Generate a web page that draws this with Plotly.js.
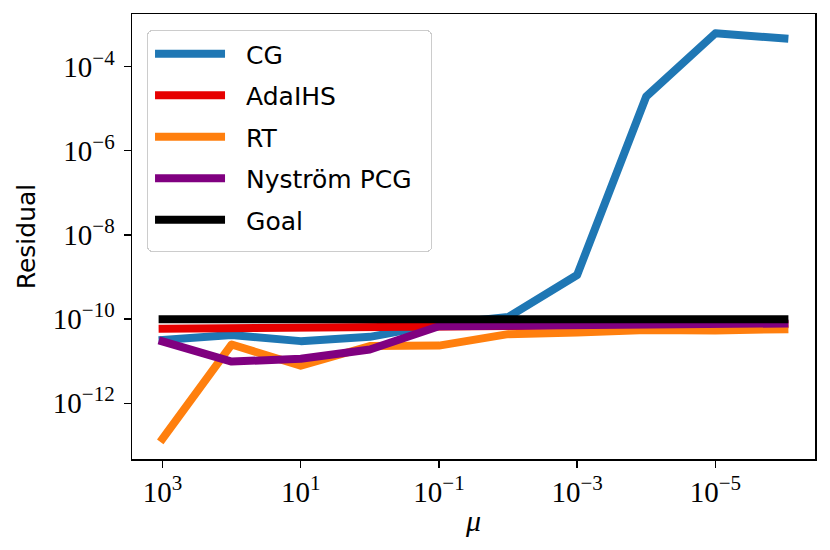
<!DOCTYPE html>
<html>
<head>
<meta charset="utf-8">
<script src="https://cdn.plot.ly/plotly-3.0.1.min.js"></script>
<style>
  html, body { margin: 0; padding: 0; background: #fff; }
  #chart { width: 830px; height: 550px; }
</style>
</head>
<body>
<div id="chart"></div>
<script>
// ---- data ----
const mu = [1e3, 1e2, 1e1, 1e0, 1e-1, 1e-2, 1e-3, 1e-4, 1e-5, 1e-6];
const cgResidual       = [3.2e-11, 4.2e-11, 3.0e-11, 3.8e-11, 7.6e-11, 1.12e-10, 1.12e-9, 1.95e-5, 6.2e-4, 4.7e-4];
const adaIHSResidual   = [5.9e-11, 6.2e-11, 6.3e-11, 6.5e-11, 6.6e-11, 6.9e-11, 7.1e-11, 7.2e-11, 7.4e-11, 7.6e-11];
const rtResidual       = [1.45e-13, 2.5e-11, 7.8e-12, 2.3e-11, 2.35e-11, 4.4e-11, 4.8e-11, 5.5e-11, 5.4e-11, 5.75e-11];
const nystromResidual  = [2.95e-11, 9.8e-12, 1.15e-11, 1.9e-11, 6.8e-11, 6.9e-11, 7.1e-11, 7.1e-11, 7.6e-11, 7.9e-11];
const goalResidual     = [1e-10, 1e-10, 1e-10, 1e-10, 1e-10, 1e-10, 1e-10, 1e-10, 1e-10, 1e-10];

const seriesNames  = ['CG', 'AdaIHS', 'RT', 'Nyström PCG', 'Goal'];
const seriesColors = ['#1f77b4', '#e60000', '#ff7f0e', '#800080', '#000000'];

const xTickVals = [1e3, 1e1, 1e-1, 1e-3, 1e-5];
const xTickExp  = ['3', '1', '−1', '−3', '−5'];
const yTickVals = [1e-12, 1e-10, 1e-8, 1e-6, 1e-4];
const yTickExp  = ['−12', '−10', '−8', '−6', '−4'];

const supLabel = e => '10<sup><span style="font-size:21px">' + e + '</span></sup>';
const xTickText = xTickExp.map(supLabel);
const yTickText = yTickExp.map(supLabel);

const allSeries = [cgResidual, adaIHSResidual, rtResidual, nystromResidual, goalResidual];

const traces = allSeries.map((ys, i) => ({
  x: mu,
  y: ys,
  type: 'scatter',
  mode: 'lines',
  name: seriesNames[i],
  legendgroup: 'g' + i,
  line: { color: seriesColors[i], width: 8 },
  hoverinfo: 'x+y+name'
}));

const serif = 'Liberation Serif, Times New Roman, serif';
const sans = 'DejaVu Sans, sans-serif';

const layout = {
  width: 830,
  height: 550,
  margin: { l: 132, r: 15, t: 14, b: 91, pad: 0 },
  paper_bgcolor: '#ffffff',
  plot_bgcolor: '#ffffff',
  showlegend: true,
  legend: {
    x: 0.022, y: 0.964, xanchor: 'left', yanchor: 'top',
    bgcolor: 'rgba(255,255,255,0.8)',
    bordercolor: '#cccccc', borderwidth: 1,
    font: { family: sans, size: 25, color: '#000' },
    itemwidth: 88,
    tracegroupgap: 6,
    traceorder: 'grouped'
  },
  xaxis: {
    type: 'log',
    range: [3.443, -6.443],
    tickvals: xTickVals,
    ticktext: xTickText,
    tickfont: { family: serif, size: 29, color: '#000' },
    ticks: 'outside', ticklen: 7, tickwidth: 1.3, tickcolor: '#000',
    showline: true, linecolor: '#000', linewidth: 1.5, mirror: true,
    showgrid: false, zeroline: false,
    title: { text: 'μ', font: { family: serif, size: 30, color: '#000', style: 'italic' }, standoff: 2 }
  },
  yaxis: {
    type: 'log',
    range: [-13.324, -2.748],
    tickvals: yTickVals,
    ticktext: yTickText,
    tickfont: { family: serif, size: 29, color: '#000' },
    ticks: 'outside', ticklen: 7, tickwidth: 1.3, tickcolor: '#000',
    ticklabelstandoff: 3,
    showline: true, linecolor: '#000', linewidth: 1.5, mirror: true,
    showgrid: false, zeroline: false,
    title: { text: 'Residual', font: { family: sans, size: 25, color: '#000' }, standoff: 10 }
  }
};

Plotly.newPlot('chart', traces, layout, { staticPlot: true, displayModeBar: false }).then(() => {
  // matplotlib-like caps/joins on the data lines
  document.querySelectorAll('.scatterlayer path.js-line').forEach(p => {
    p.style.strokeLinecap = 'square';
    p.style.strokeLinejoin = 'round';
  });
  // longer legend line samples like the reference
  document.querySelectorAll('.legend .traces path.js-line').forEach(p => {
    p.setAttribute('d', 'M7,0h70');
  });
  // legend frame size and rounded corners like the reference
  const legendW = 284, legendH = 221;
  document.querySelectorAll('.legend rect.bg').forEach(r => {
    r.setAttribute('width', legendW);
    r.setAttribute('height', legendH);
    r.setAttribute('rx', 5);
    r.setAttribute('ry', 5);
  });
  document.querySelectorAll('clipPath[id^="legend"] rect').forEach(r => {
    r.setAttribute('width', legendW);
    r.setAttribute('height', legendH);
  });
});
</script>
</body>
</html>
